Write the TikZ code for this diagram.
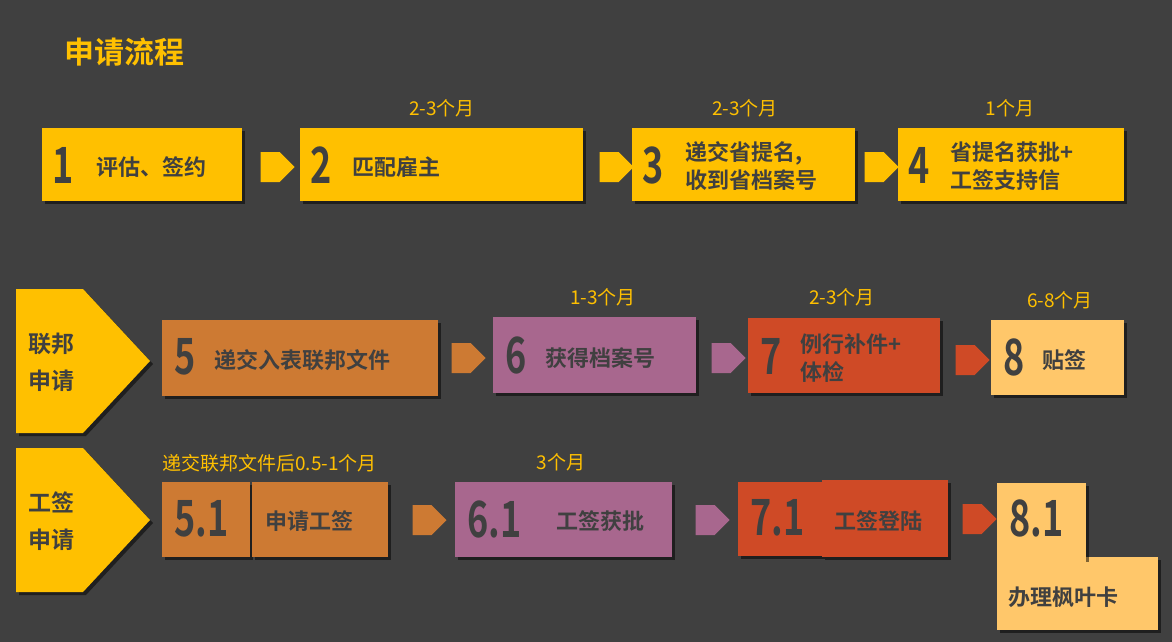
\documentclass[tikz,border=0pt]{standalone}
\usepackage{fontspec}
\newfontfamily\cjk{Noto Sans CJK SC}[BoldFont={Noto Sans CJK SC Bold}]
\usetikzlibrary{shapes.arrows,shapes.geometric,shadows}
\definecolor{bg}{HTML}{404040}
\definecolor{gold}{HTML}{FFC000}
\definecolor{ochre}{HTML}{CD7A33}
\definecolor{plum}{HTML}{A8678E}
\definecolor{brick}{HTML}{CF4A26}
\definecolor{sand}{HTML}{FFC76A}
\newcommand{\stepnum}[1]{\scalebox{0.72}[1]{\fontsize{50}{50}\cjk\bfseries #1}}
\tikzset{
  box/.style={draw=none, fill=#1, anchor=north west, inner sep=0pt,
    drop shadow={shadow xshift=3pt, shadow yshift=-3pt, fill=black, opacity=0.5}},
  num/.style={text=bg, anchor=west, inner sep=0pt},
  txt/.style={text=bg, anchor=west, inner sep=0pt, align=left, font=\fontsize{22}{28}\cjk\bfseries},
  flow/.style={single arrow, fill=#1, draw=none, minimum width=30pt, single arrow head extend=0pt,
    minimum height=34pt, inner sep=0pt, single arrow head indent=0pt},
  dur/.style={text=gold, inner sep=0pt, font=\fontsize{19}{19}\cjk},
  lane/.style={fill=gold, draw=none, drop shadow={shadow xshift=3pt, shadow yshift=-3pt, fill=black, opacity=0.5}},
  lanetxt/.style={text=bg, align=left, anchor=west, inner sep=0pt, font=\fontsize{23}{37}\cjk\bfseries}
}
\begin{document}
\begin{tikzpicture}[x=1pt,y=-1pt]
  \fill[bg] (0,0) rectangle (1172,642);
  \useasboundingbox (0,0) rectangle (1172,642);
  \node[text=gold, anchor=west, inner sep=0pt, font=\fontsize{30}{30}\cjk\bfseries] (title) at (64,52) {申请流程};

  % first row
  \node[box=gold, minimum width=200pt, minimum height=73pt] (b1) at (42,128) {};
  \node[box=gold, minimum width=283pt, minimum height=73pt] (b2) at (300,128) {};
  \node[box=gold, minimum width=223pt, minimum height=73pt] (b3) at (632,128) {};
  \node[box=gold, minimum width=226pt, minimum height=73pt] (b4) at (898,128) {};
  \node[num] (n1) at (52,165) {\stepnum{1}};
  \node[txt] (t1) at (96,167) {评估、签约};
  \node[num] (n2) at (310,165) {\stepnum{2}};
  \node[txt] (t2) at (352,167) {匹配雇主};
  \node[num] (n3) at (642,165) {\stepnum{3}};
  \node[txt] (t3) at (685,166) {递交省提名,\\收到省档案号};
  \node[num] (n4) at (908,165) {\stepnum{4}};
  \node[txt] (t4) at (950,166) {省提名获批+\\工签支持信};
  \node[flow=gold] (a12) at (270,167) {};
  \node[flow=gold] (a23) at (609,167) {};
  \node[flow=gold] (a34) at (874,167) {};
  \node[dur] (d2) at (442,108) {2-3个月};
  \node[dur] (d3) at (745,108) {2-3个月};
  \node[dur] (d4) at (1010,108) {1个月};

  % lanes
  \draw[lane] (16,289) -- (83,289) -- (150,361) -- (83,433) -- (16,433) -- cycle;
  \draw[lane] (16,448) -- (83,448) -- (150,520) -- (83,592) -- (16,592) -- cycle;
  \node[lanetxt] (l1) at (28,362) {联邦\\申请};
  \node[lanetxt] (l2) at (28,521) {工签\\申请};

  % second row
  \node[box=ochre, minimum width=276pt, minimum height=76pt] (b5) at (162,320) {};
  \node[box=plum, minimum width=203pt, minimum height=76pt] (b6) at (493,317) {};
  \node[box=brick, minimum width=192pt, minimum height=75pt] (b7) at (748,318) {};
  \node[box=sand, minimum width=133pt, minimum height=75pt] (b8) at (991,320) {};
  \node[num] (n5) at (174,357) {\stepnum{5}};
  \node[txt] (t5) at (214,360) {递交入表联邦文件};
  \node[num] (n6) at (505,355) {\stepnum{6}};
  \node[txt] (t6) at (545,358) {获得档案号};
  \node[num] (n7) at (760,356) {\stepnum{7}};
  \node[txt] (t7) at (800,358) {例行补件+\\体检};
  \node[num] (n8) at (1003,357) {\stepnum{8}};
  \node[txt] (t8) at (1042,360) {贴签};
  \node[flow=ochre] (a56) at (461,358) {};
  \node[flow=plum] (a67) at (721,358) {};
  \node[flow=brick] (a78) at (965,360) {};
  \node[dur] (d6) at (603,297) {1-3个月};
  \node[dur] (d7) at (842,297) {2-3个月};
  \node[dur] (d8) at (1060,300) {6-8个月};

  % third row
  \node[box=ochre, minimum width=88pt, minimum height=75pt] (b51a) at (162,482) {};
  \node[box=ochre, minimum width=136pt, minimum height=75pt] (b51b) at (252,482) {};
  \node[box=plum, minimum width=217pt, minimum height=75pt] (b61) at (455,482) {};
  \node[box=brick, minimum width=84pt, minimum height=74pt] (b71a) at (738,482) {};
  \node[box=brick, minimum width=126pt, minimum height=77pt] (b71b) at (822,480) {};
  \node[box=sand, minimum width=161pt, minimum height=73pt] (b81b) at (997,557) {};
  \node[box=sand, minimum width=89pt, minimum height=76pt] (b81a) at (997,483) {};
  \fill[sand] (997,550) rectangle (1086,562);
  \node[num] (n51) at (174,519) {\stepnum{5.1}};
  \node[txt] (t51) at (265,521) {申请工签};
  \node[num] (n61) at (467,519) {\stepnum{6.1}};
  \node[txt] (t61) at (556,521) {工签获批};
  \node[num] (n71) at (750,518) {\stepnum{7.1}};
  \node[txt] (t71) at (834,521) {工签登陆};
  \node[num] (n81) at (1009,518) {\stepnum{8.1}};
  \node[txt] (t81) at (1008,597) {办理枫叶卡};
  \node[flow=ochre] (a5161) at (422,520) {};
  \node[flow=plum] (a6171) at (705,520) {};
  \node[flow=brick] (a7181) at (972,519) {};
  \node[dur, anchor=west] (d51) at (162,463) {递交联邦文件后0.5-1个月};
  \node[dur] (d61) at (561,462) {3个月};
\end{tikzpicture}
\end{document}
